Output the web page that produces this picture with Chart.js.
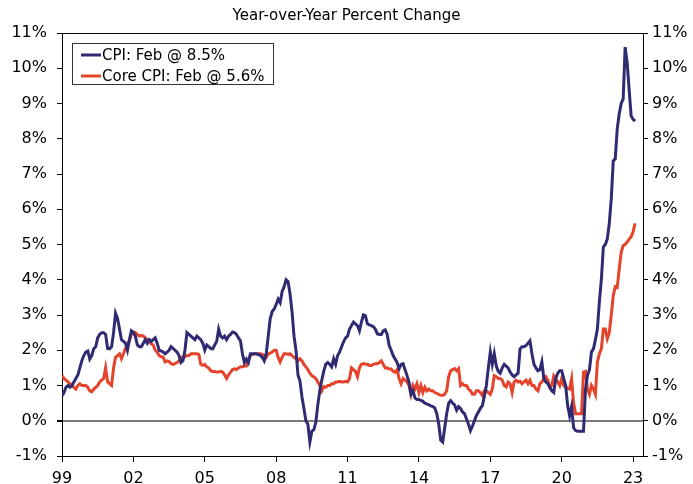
<!DOCTYPE html>
<html lang="en">
<head>
<meta charset="UTF-8">
<title>CPI vs Core CPI</title>
<script src="https://cdn.jsdelivr.net/npm/chart.js"></script>
<style>
  html, body { margin: 0; padding: 0; background: #fff; }
  canvas { display: block; }
</style>
</head>
<body>
<canvas id="chart" width="693" height="484"></canvas>
<script>
// x axis: months since Jan 1999, labelled every 3 years
const tickLabels = ['99', '02', '05', '08', '11', '14', '17', '20', '23'];
const monthsPerTick = 36;

const cpiLabel = 'CPI: Feb @ 8.5%';
const coreLabel = 'Core CPI: Feb @ 5.6%';

// monthly year-over-year % change, Jan 1999 - Feb 2023
const cpi = [
  0.7, 0.8, 0.95, 1.0, 0.95, 1.0, 1.1, 1.2, 1.3, 1.5, 1.7, 1.85,        // 1999
  1.95, 1.98, 1.75, 1.85, 2.04, 2.1, 2.35, 2.45, 2.5, 2.5, 2.45, 2.05,  // 2000
  2.04, 2.1, 2.5, 3.05, 2.9, 2.6, 2.3, 2.25, 2.2, 2.0, 2.3, 2.55,       // 2001
  2.5, 2.4, 2.15, 2.1, 2.1, 2.2, 2.3, 2.2, 2.3, 2.25, 2.3, 2.35,        // 2002
  2.2, 2.0, 1.98, 1.95, 1.9, 1.95, 2.0, 2.1, 2.05, 2.0, 1.95, 1.85,     // 2003
  1.65, 1.7, 2.0, 2.5, 2.45, 2.4, 2.35, 2.3, 2.4, 2.35, 2.3, 2.2,       // 2004
  2.0, 2.15, 2.1, 2.05, 2.04, 2.15, 2.25, 2.6, 2.4, 2.35, 2.4, 2.3,     // 2005
  2.4, 2.45, 2.52, 2.5, 2.45, 2.35, 2.27, 1.9, 1.65, 1.75, 1.65, 1.9,   // 2006
  1.9, 1.9, 1.9, 1.88, 1.85, 1.8, 1.7, 1.9, 2.4, 2.9, 3.1, 3.17,        // 2007
  3.3, 3.45, 3.35, 3.66, 3.8, 4.0, 3.95, 3.6, 3.1, 2.4, 2.0, 1.3,       // 2008
  1.13, 0.68, 0.35, 0.0, -0.1, -0.6, -0.3, -0.25, -0.05, 0.45, 0.85, 1.15, // 2009
  1.4, 1.6, 1.65, 1.6, 1.53, 1.76, 1.6, 1.85, 1.95, 2.1, 2.24, 2.35,    // 2010
  2.4, 2.6, 2.7, 2.8, 2.75, 2.7, 2.55, 2.8, 3.0, 2.98, 2.75, 2.72,      // 2011
  2.7, 2.67, 2.6, 2.47, 2.45, 2.45, 2.55, 2.58, 2.45, 2.13, 2.0, 1.85,  // 2012
  1.75, 1.65, 1.48, 1.6, 1.62, 1.45, 1.28, 1.1, 0.75, 0.85, 0.65, 0.6,  // 2013
  0.6, 0.58, 0.55, 0.5, 0.48, 0.45, 0.42, 0.4, 0.36, 0.2, -0.1, -0.55,  // 2014
  -0.6, -0.2, 0.2, 0.5, 0.57, 0.5, 0.45, 0.3, 0.4, 0.35, 0.25, 0.2,     // 2015
  0.05, -0.1, -0.28, -0.15, 0.0, 0.15, 0.25, 0.35, 0.43, 0.7, 1.0, 1.5, // 2016
  1.95, 1.6, 1.9, 1.55, 1.4, 1.35, 1.5, 1.6, 1.55, 1.5, 1.38, 1.3,      // 2017
  1.25, 1.3, 1.35, 2.04, 2.1, 2.1, 2.13, 2.2, 2.27, 1.9, 1.6, 1.5,      // 2018
  1.42, 1.45, 1.67, 1.2, 1.1, 1.05, 0.95, 0.85, 0.8, 1.2, 1.35, 1.42,   // 2019
  1.42, 1.2, 1.0, 0.43, 0.14, 0.4, -0.2, -0.28, -0.3, -0.3, -0.3, -0.3, // 2020
  0.9, 1.28, 1.45, 1.95, 2.04, 2.3, 2.6, 3.37, 4.0, 4.93, 5.0, 5.16,    // 2021
  5.6, 6.3, 7.37, 7.43, 8.28, 8.7, 9.0, 9.13, 10.6, 10.17, 9.4, 8.65,   // 2022
  8.55, 8.5                                                            // 2023
];

const core = [
  1.28, 1.2, 1.15, 1.1, 1.05, 1.0, 0.95, 0.9, 1.0, 1.05, 1.0, 1.0,      // 1999
  1.0, 0.95, 0.85, 0.82, 0.9, 0.95, 1.0, 1.1, 1.15, 1.2, 1.5, 1.1,      // 2000
  1.05, 1.0, 1.5, 1.8, 1.85, 1.9, 1.76, 1.9, 2.05, 2.15, 2.27, 2.45,    // 2001
  2.52, 2.5, 2.45, 2.4, 2.42, 2.4, 2.35, 2.3, 2.25, 2.18, 2.15, 2.0,    // 2002
  1.95, 1.85, 1.82, 1.8, 1.67, 1.7, 1.68, 1.62, 1.6, 1.62, 1.65, 1.7,   // 2003
  1.8, 1.8, 1.81, 1.85, 1.85, 1.9, 1.9, 1.9, 1.9, 1.88, 1.6, 1.57,      // 2004
  1.6, 1.53, 1.5, 1.42, 1.4, 1.4, 1.38, 1.38, 1.4, 1.38, 1.3, 1.2,      // 2005
  1.3, 1.38, 1.45, 1.47, 1.45, 1.5, 1.53, 1.53, 1.55, 1.55, 1.7, 1.85,  // 2006
  1.88, 1.9, 1.9, 1.9, 1.9, 1.88, 1.85, 1.8, 1.9, 1.92, 1.95, 2.0,      // 2007
  2.0, 1.8, 1.67, 1.8, 1.9, 1.9, 1.88, 1.9, 1.85, 1.8, 1.76, 1.7,       // 2008
  1.76, 1.7, 1.6, 1.53, 1.45, 1.35, 1.28, 1.24, 1.2, 1.1, 1.0, 0.85,    // 2009
  0.97, 0.95, 1.0, 1.0, 1.05, 1.05, 1.1, 1.1, 1.12, 1.1, 1.1, 1.12,     // 2010
  1.1, 1.2, 1.5, 1.45, 1.4, 1.25, 1.5, 1.6, 1.62, 1.6, 1.6, 1.57,       // 2011
  1.57, 1.6, 1.62, 1.62, 1.65, 1.7, 1.6, 1.5, 1.5, 1.47, 1.47, 1.4,     // 2012
  1.38, 1.45, 1.2, 1.05, 1.2, 1.15, 1.1, 1.0, 0.75, 1.0, 0.9, 1.05,     // 2013
  0.8, 1.0, 0.8, 0.95, 0.85, 0.9, 0.85, 0.85, 0.8, 0.78, 0.75, 0.72,    // 2014
  0.72, 0.75, 0.85, 1.25, 1.42, 1.45, 1.48, 1.42, 1.48, 1.0, 1.05, 1.0, // 2015
  1.0, 0.9, 0.85, 0.75, 0.75, 0.85, 0.85, 0.8, 0.72, 0.85, 0.85, 0.8,   // 2016
  0.75, 0.9, 1.28, 1.25, 1.2, 1.2, 1.15, 1.0, 0.96, 1.1, 1.05, 0.8,     // 2017
  1.1, 1.15, 1.1, 1.12, 1.05, 1.1, 1.15, 1.05, 1.15, 1.0, 1.0, 0.9,     // 2018
  0.85, 1.05, 1.1, 1.2, 1.25, 1.15, 0.95, 1.0, 1.28, 1.2, 1.1, 1.0,     // 2019
  1.2, 1.0, 0.95, 0.92, 0.9, 1.19, 0.5, 0.2, 0.2, 0.2, 0.2, 1.38,       // 2020
  1.4, 0.9, 0.75, 1.0, 0.9, 0.75, 1.67, 1.9, 2.04, 2.6, 2.6, 2.33,      // 2021
  2.5, 3.0, 3.55, 3.8, 3.78, 4.3, 4.78, 4.97, 5.0, 5.07, 5.15, 5.22,    // 2022
  5.36, 5.6                                                            // 2023
];

const cpiColor = '#2f2b72';
const coreColor = '#e5432b';
const fontFamily = '"DejaVu Sans", Verdana, sans-serif';

const toPoints = arr => arr.map((v, i) => ({ x: i, y: v }));

// legend drawn inside the plot, top-left
const boxLegend = {
  id: 'boxLegend',
  afterDraw(chart) {
    const ctx = chart.ctx;
    const area = chart.chartArea;
    const x0 = area.left + 10, y0 = area.top + 10, w = 201, h = 41;
    ctx.save();
    ctx.fillStyle = '#fff';
    ctx.fillRect(x0, y0, w, h);
    ctx.strokeStyle = '#333';
    ctx.lineWidth = 1;
    ctx.strokeRect(x0 + 0.5, y0 + 0.5, w, h);
    ctx.font = '15px ' + fontFamily;
    ctx.textBaseline = 'middle';
    chart.data.datasets.forEach((ds, i) => {
      const y = y0 + 12 + i * 21;
      ctx.strokeStyle = ds.borderColor;
      ctx.lineWidth = 3;
      ctx.beginPath();
      ctx.moveTo(x0 + 9, y);
      ctx.lineTo(x0 + 29, y);
      ctx.stroke();
      ctx.fillStyle = '#000';
      ctx.fillText(ds.label, x0 + 30, y + 1);
    });
    ctx.restore();
  }
};

new Chart(document.getElementById('chart'), {
  type: 'line',
  data: {
    datasets: [
      { label: cpiLabel, data: toPoints(cpi), borderColor: cpiColor, borderWidth: 3, pointRadius: 0, tension: 0 },
      { label: coreLabel, data: toPoints(core), borderColor: coreColor, borderWidth: 3, pointRadius: 0, tension: 0 }
    ]
  },
  options: {
    responsive: false,
    animation: false,
    layout: { padding: 0 },
    plugins: {
      legend: { display: false },
      tooltip: { enabled: false },
      title: {
        display: true,
        text: 'Year-over-Year Percent Change',
        color: '#000',
        font: { family: fontFamily, size: 15, weight: 'normal', lineHeight: 1.2 },
        padding: { top: 7, bottom: 8 }
      }
    },
    scales: {
      x: {
        type: 'linear',
        min: 0,
        max: 293,
        afterBuildTicks: s => { s.ticks = tickLabels.map((_, i) => ({ value: i * monthsPerTick })); },
        afterFit: s => { s.height = 28; },
        ticks: {
          callback: (v) => tickLabels[Math.round(v / monthsPerTick)],
          color: '#000',
          font: { family: fontFamily, size: 16 },
          padding: 7,
          maxRotation: 0,
          autoSkip: false
        },
        grid: { drawOnChartArea: false, tickLength: 6, tickColor: '#000' },
        border: { color: '#000', width: 1 }
      },
      y: {
        position: 'left',
        min: -1,
        max: 11,
        afterFit: s => { s.width = 62; },
        ticks: {
          stepSize: 1,
          callback: v => v + '%',
          color: '#000',
          font: { family: fontFamily, size: 16 },
          padding: 10
        },
        grid: {
          drawOnChartArea: true,
          color: c => c.tick.value === 0 ? '#7a7a7a' : (c.tick.value === 11 ? '#000' : 'rgba(0,0,0,0)'),
          lineWidth: c => c.tick.value === 0 ? 2 : 1,
          tickColor: '#000',
          tickLength: 5
        },
        border: { color: '#000', width: 1 }
      },
      y2: {
        position: 'right',
        min: -1,
        max: 11,
        afterFit: s => { s.width = 50; },
        ticks: {
          stepSize: 1,
          callback: v => v + '%',
          color: '#000',
          font: { family: fontFamily, size: 16 },
          padding: 4
        },
        grid: { drawOnChartArea: false, tickColor: '#000', tickLength: 5 },
        border: { color: '#000', width: 1 }
      }
    }
  },
  plugins: [boxLegend]
});
</script>
</body>
</html>
